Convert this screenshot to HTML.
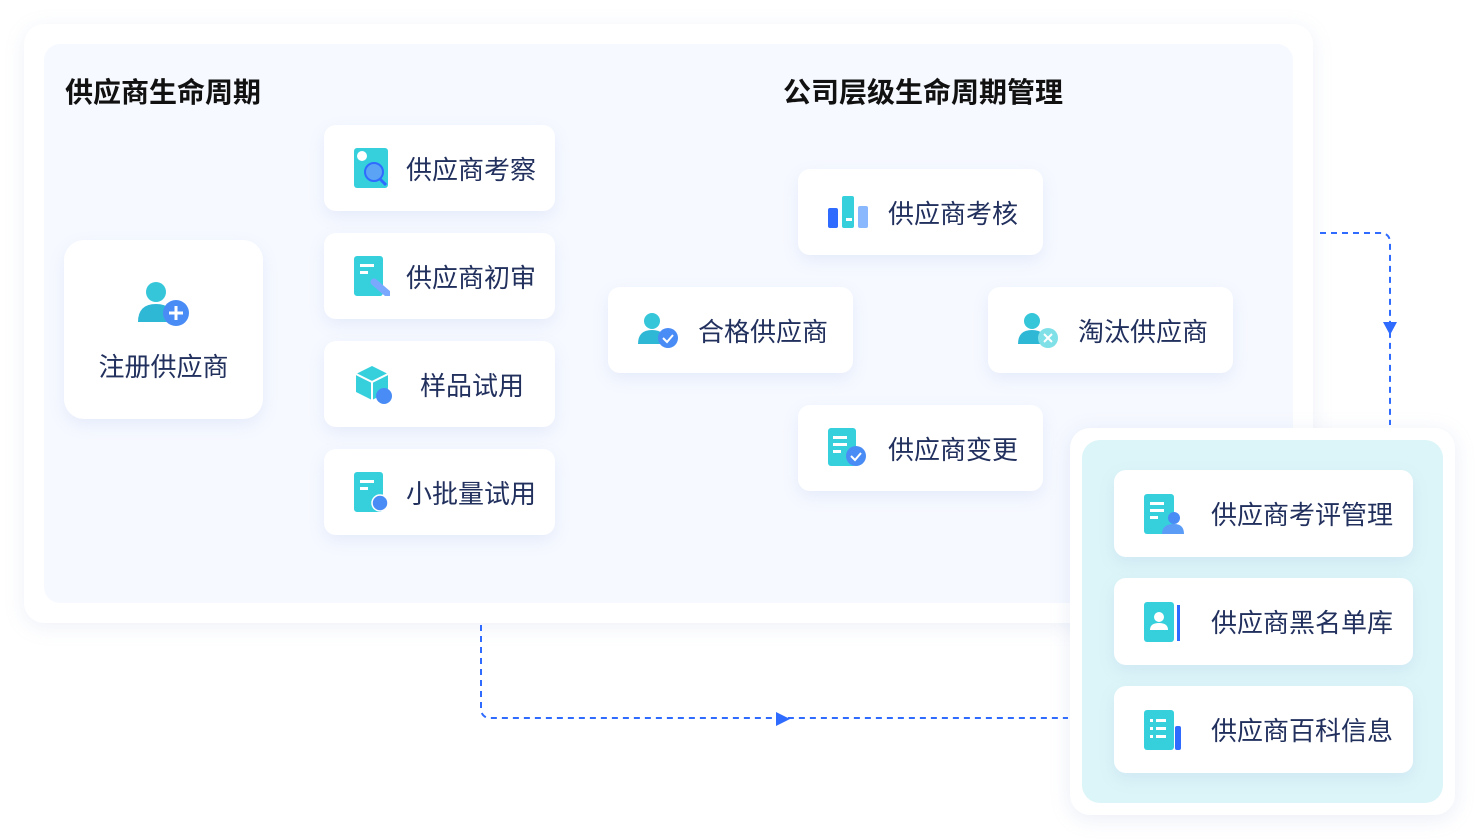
<!DOCTYPE html>
<html><head><meta charset="utf-8"><style>
body{margin:0;width:1480px;height:840px;background:#fff;position:relative;overflow:hidden;font-family:"Liberation Sans","Noto Sans CJK SC",sans-serif;color:#1f2d5c}
.a{position:absolute}
.card{position:absolute;background:#fff;border-radius:12px;box-shadow:0 6px 16px rgba(120,150,220,0.13);display:flex;align-items:center;font-size:26px;color:#22305e}
.card svg{margin-right:16px}
.t{position:absolute;font-size:28px;font-weight:bold;color:#111;line-height:34px}
</style></head><body>
<div class="a" style="left:24px;top:24px;width:1289px;height:599px;background:#fff;border-radius:20px;box-shadow:0 4px 20px rgba(140,160,210,0.15)"></div>
<div class="a" style="left:44px;top:44px;width:1249px;height:559px;background:#f6f9ff;border-radius:16px"></div>
<div class="t" style="left:65px;top:76px">供应商生命周期</div>
<div class="t" style="left:783px;top:76px">公司层级生命周期管理</div>

<svg class="a" style="left:0;top:0" width="1480" height="840">
<path d="M1320 233 H1380 Q1390 233 1390 243 V425" fill="none" stroke="#2f6bff" stroke-width="2" stroke-dasharray="6 5"/>
<path d="M1383 322 L1397 322 L1390 335 Z" fill="#2f6bff"/>
<path d="M481 625 V708 Q481 718 491 718 H1068" fill="none" stroke="#2f6bff" stroke-width="2" stroke-dasharray="6 5"/>
<path d="M776 712 L776 726 L790 719 Z" fill="#2f6bff"/>
</svg>

<div class="card" style="left:64px;top:240px;width:199px;height:179px;border-radius:20px;flex-direction:column;justify-content:center">
<svg width="60" height="52" viewBox="0 0 60 52" style="margin:0 0 14px 0;position:relative;top:2px"><circle cx="22" cy="12" r="10" fill="#36c6d9"/><path d="M4 42 Q4 24 22 24 Q40 24 40 42 Z" fill="#2fb8d6"/><circle cx="42" cy="33" r="13" fill="#4a8cf5"/><path d="M42 26V40M35 33H49" stroke="#fff" stroke-width="3"/></svg>
<div style="position:relative;top:3px">注册供应商</div></div>

<div class="card" style="left:324px;top:125px;width:231px;height:86px;padding-left:30px;box-sizing:border-box"><svg width="36" height="40"><rect x="0" y="0" width="34" height="40" rx="3" fill="#36d0dd"/><circle cx="8" cy="8" r="5" fill="#fff"/><circle cx="20" cy="24" r="9" fill="#5aa3f5" stroke="#2f6bff" stroke-width="2"/><path d="M26 31l6 6" stroke="#2f6bff" stroke-width="3"/></svg>供应商考察</div>
<div class="card" style="left:324px;top:233px;width:231px;height:86px;padding-left:30px;box-sizing:border-box"><svg width="36" height="40"><rect x="0" y="0" width="29" height="40" rx="3" fill="#36d0dd"/><rect x="6" y="8" width="14" height="3" fill="#fff"/><rect x="6" y="15" width="8" height="3" fill="#fff"/><path d="M20 26l14 12" stroke="#7aa8ff" stroke-width="7" stroke-linecap="round"/></svg>供应商初审</div>
<div class="card" style="left:324px;top:341px;width:231px;height:86px;padding-left:32px;box-sizing:border-box"><svg width="40" height="40" style="margin-right:24px"><path d="M16 2 L32 10 V28 L16 36 L0 28 V10 Z" fill="#36d0dd"/><path d="M0 10 L16 18 L32 10 M16 18 V36" stroke="#fff" stroke-width="2" fill="none"/><circle cx="28" cy="32" r="8" fill="#4a8cf5"/></svg>样品试用</div>
<div class="card" style="left:324px;top:449px;width:231px;height:86px;padding-left:30px;box-sizing:border-box"><svg width="36" height="40"><rect x="0" y="0" width="29" height="40" rx="3" fill="#36d0dd"/><rect x="6" y="8" width="14" height="3" fill="#fff"/><rect x="6" y="15" width="8" height="3" fill="#fff"/><circle cx="26" cy="31" r="8" fill="#4a8cf5" stroke="#fff" stroke-width="1.5"/></svg>小批量试用</div>

<div class="card" style="left:798px;top:169px;width:245px;height:86px;padding-left:30px;box-sizing:border-box"><svg width="42" height="36" style="margin-right:18px"><rect x="0" y="14" width="10" height="20" rx="2" fill="#2f6bff"/><rect x="14" y="2" width="12" height="32" rx="2" fill="#36d0dd"/><rect x="18" y="24" width="6" height="3" fill="#fff"/><rect x="30" y="12" width="10" height="22" rx="2" fill="#8ab8ff"/></svg>供应商考核</div>
<div class="card" style="left:608px;top:287px;width:245px;height:86px;padding-left:30px;box-sizing:border-box"><svg width="42" height="36" style="margin-right:18px"><circle cx="14" cy="9" r="8" fill="#36c6d9"/><path d="M0 32 Q0 18 14 18 Q28 18 28 32Z" fill="#2fb8d6"/><circle cx="30" cy="26" r="10" fill="#4a8cf5"/><path d="M25 26l4 4 6-7" stroke="#fff" stroke-width="2" fill="none"/></svg>合格供应商</div>
<div class="card" style="left:988px;top:287px;width:245px;height:86px;padding-left:30px;box-sizing:border-box"><svg width="42" height="36" style="margin-right:18px"><circle cx="14" cy="9" r="8" fill="#36c6d9"/><path d="M0 32 Q0 18 14 18 Q28 18 28 32Z" fill="#2fb8d6"/><circle cx="30" cy="26" r="10" fill="#7fe0e8"/><path d="M26 22l8 8M34 22l-8 8" stroke="#fff" stroke-width="2"/></svg>淘汰供应商</div>
<div class="card" style="left:798px;top:405px;width:245px;height:86px;padding-left:30px;box-sizing:border-box"><svg width="42" height="40" style="margin-right:18px"><rect x="0" y="0" width="28" height="38" rx="3" fill="#36d0dd"/><rect x="5" y="8" width="14" height="3" fill="#fff"/><rect x="5" y="15" width="14" height="3" fill="#fff"/><rect x="5" y="22" width="8" height="3" fill="#fff"/><circle cx="28" cy="28" r="10" fill="#4a8cf5"/><path d="M23 28l4 4 6-7" stroke="#fff" stroke-width="2" fill="none"/></svg>供应商变更</div>

<div class="a" style="left:1070px;top:428px;width:385px;height:387px;background:#fff;border-radius:20px;box-shadow:0 4px 20px rgba(140,160,210,0.18)"></div>
<div class="a" style="left:1082px;top:440px;width:361px;height:363px;background:#dcf5f8;border-radius:18px"></div>
<div class="card" style="left:1114px;top:470px;width:299px;height:87px;padding-left:30px;box-sizing:border-box"><svg width="42" height="40" style="margin-right:25px"><rect x="0" y="0" width="30" height="40" rx="3" fill="#36d0dd"/><rect x="6" y="8" width="14" height="3" fill="#fff"/><rect x="6" y="15" width="14" height="3" fill="#fff"/><rect x="6" y="22" width="8" height="3" fill="#fff"/><circle cx="30" cy="24" r="6" fill="#4a8cf5"/><path d="M18 40 Q18 30 30 30 Q40 30 40 40Z" fill="#5b9cf7"/></svg>供应商考评管理</div>
<div class="card" style="left:1114px;top:578px;width:299px;height:87px;padding-left:30px;box-sizing:border-box"><svg width="42" height="40" style="margin-right:25px"><rect x="0" y="0" width="30" height="40" rx="3" fill="#36d0dd"/><rect x="33" y="3" width="3" height="36" fill="#2f6bff"/><circle cx="15" cy="15" r="5" fill="#fff"/><path d="M6 28 Q6 21 15 21 Q24 21 24 28Z" fill="#fff"/></svg>供应商黑名单库</div>
<div class="card" style="left:1114px;top:686px;width:299px;height:87px;padding-left:30px;box-sizing:border-box"><svg width="42" height="40" style="margin-right:25px"><rect x="0" y="0" width="30" height="40" rx="3" fill="#36d0dd"/><rect x="31" y="16" width="6" height="24" rx="2" fill="#2f6bff"/><rect x="6" y="9" width="3" height="3" fill="#fff"/><rect x="12" y="9" width="10" height="3" fill="#fff"/><rect x="6" y="17" width="3" height="3" fill="#fff"/><rect x="12" y="17" width="10" height="3" fill="#fff"/><rect x="6" y="25" width="3" height="3" fill="#fff"/><rect x="12" y="25" width="10" height="3" fill="#fff"/></svg>供应商百科信息</div>
</body></html>
